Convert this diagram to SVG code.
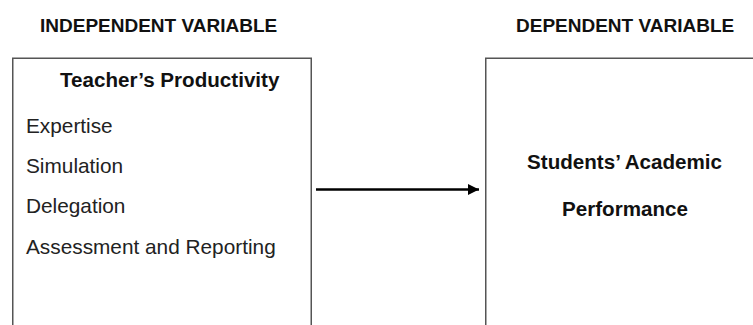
<svg xmlns="http://www.w3.org/2000/svg" width="753" height="325" viewBox="0 0 753 325">
  <style>
    .box { fill: #ffffff; stroke: #555555; stroke-width: 1.5; }
    .title { font-family: "Liberation Sans", Arial, sans-serif; font-weight: bold; font-size: 19px; fill: #111111; }
    .head { font-family: "Liberation Sans", Arial, sans-serif; font-weight: bold; font-size: 20.6px; fill: #111111; }
    .item { font-family: "Liberation Sans", Arial, sans-serif; font-size: 20.8px; fill: #222222; }
    .conn { stroke: #000000; stroke-width: 2.5; fill: none; }
  </style>
  <defs>
    <marker id="arrow" markerUnits="userSpaceOnUse" markerWidth="12" markerHeight="12" refX="11" refY="6" orient="auto">
      <path d="M0,0.5 L11,6 L0,11.5 Z" fill="#000000"/>
    </marker>
  </defs>
  <rect width="753" height="325" fill="#ffffff"/>
  <text class="title" x="40" y="32">INDEPENDENT VARIABLE</text>
  <text class="title" x="516" y="32">DEPENDENT VARIABLE</text>
  <g id="independent">
    <rect class="box" x="12.75" y="58.25" width="298.5" height="280"/>
    <text class="head" x="60" y="87">Teacher’s Productivity</text>
    <text class="item" x="26" y="133">Expertise</text>
    <text class="item" x="26" y="173">Simulation</text>
    <text class="item" x="26" y="213">Delegation</text>
    <text class="item" x="26" y="254">Assessment and Reporting</text>
  </g>
  <g id="dependent">
    <rect class="box" x="485.75" y="58.25" width="300" height="280"/>
    <text class="head" x="624.5" y="169" text-anchor="middle">Students’ Academic</text>
    <text class="head" x="625" y="215.5" text-anchor="middle">Performance</text>
  </g>
  <g id="connectors">
    <line class="conn" x1="316" y1="189.5" x2="479" y2="189.5" marker-end="url(#arrow)"/>
  </g>
</svg>
